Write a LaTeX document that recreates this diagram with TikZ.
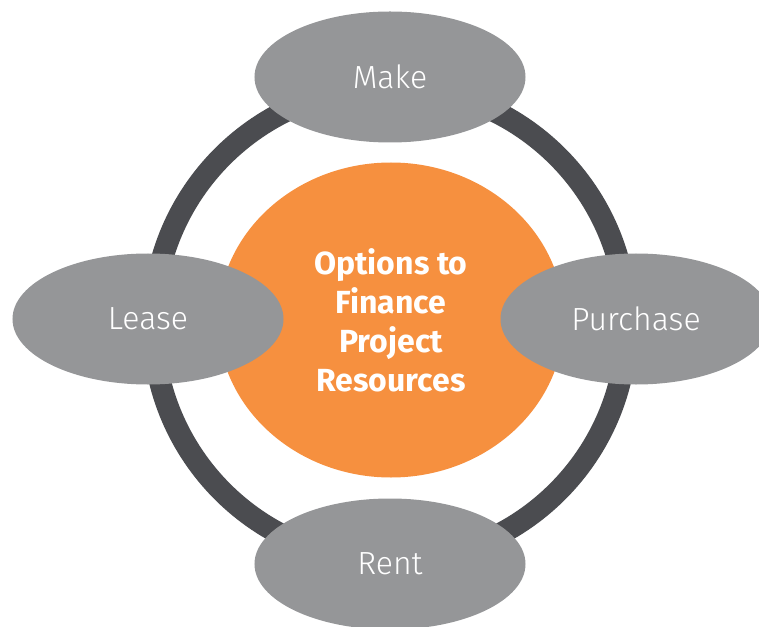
\documentclass[tikz,border=0pt]{standalone}
\usepackage{fontspec}
\setmainfont{Fira Sans}
\IfFontExistsTF{Fira Sans Light}{\newfontfamily\lightfont{Fira Sans Light}}{\newfontfamily\lightfont{Fira Sans}}
\usetikzlibrary{shapes.geometric}
\definecolor{optgray}{HTML}{959698}
\definecolor{ringgray}{HTML}{4B4C50}
\definecolor{hubcolor}{HTML}{F6903F}

\begin{document}
\begin{tikzpicture}[x=1pt,y=1pt,
	option/.style={ellipse,fill=optgray,text=white,inner sep=0pt,minimum width=271pt,minimum height=131pt,font=\lightfont\fontsize{32}{38}\selectfont},
	hub/.style={ellipse,fill=hubcolor,text=white,inner sep=0pt,minimum width=346pt,minimum height=315pt,align=center,font=\bfseries\fontsize{32}{39}\selectfont}]
	\useasboundingbox (-391,-306) rectangle (368,320);
	\draw[ringgray,line width=22pt] (-1,-4) circle (237pt);
	\node[hub] (hub) at (0,0) {Options to\\Finance\\Project\\Resources};
	\node[option] (make) at (-1,243) {Make};
	\node[option] (lease) at (-243,1) {Lease};
	\node[option] (purchase) at (245,1) {Purchase};
	\node[option] (rent) at (-1,-244) {Rent};
\end{tikzpicture}
\end{document}
